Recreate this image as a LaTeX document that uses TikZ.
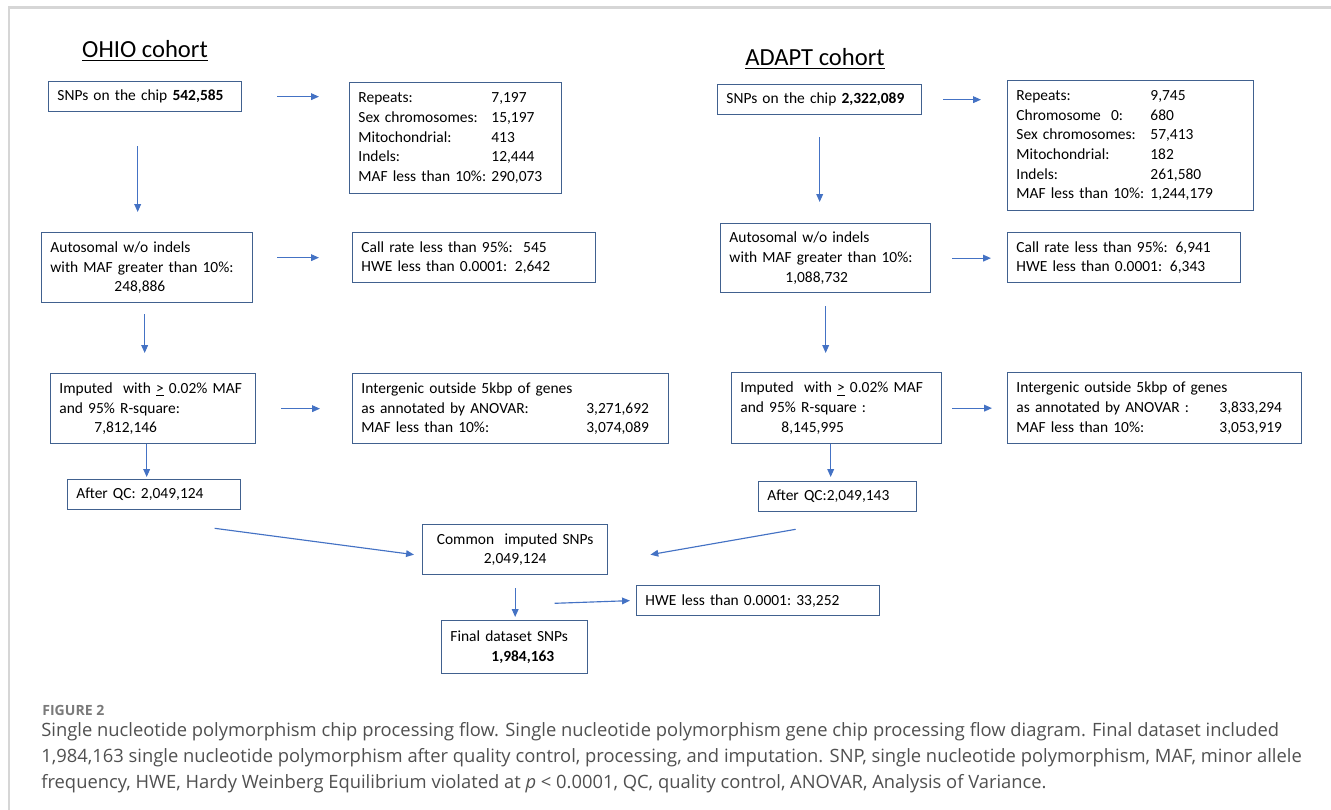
\documentclass[tikz,border=0pt]{standalone}
\usepackage{fontspec}
\setmainfont{Carlito}
\newfontfamily\capfont{Open Sans}
\usetikzlibrary{arrows.meta}

\definecolor{flowblue}{HTML}{4472C4}
\definecolor{boxedge}{HTML}{41618F}
\definecolor{framegray}{HTML}{D6D6D6}
\definecolor{captext}{HTML}{505050}
\definecolor{capfig}{HTML}{7A7A7A}

% label in a fixed-width slot, then the count
\newcommand{\statline}[3]{\makebox[#1][l]{#2}#3}

\tikzset{
  stepbox/.style={draw=boxedge, line width=0.75pt, anchor=north west, align=left,
    inner xsep=5pt, inner ysep=2pt, font=\fontsize{8.8}{11.2}\selectfont},
  flow/.style={flowblue, line width=0.65pt, -{Triangle[length=4.5pt,width=3.8pt]}},
  cohort/.style={anchor=base, font=\fontsize{14}{17}\selectfont},
  captionline/.style={anchor=base west, inner sep=0, text=captext,
    font=\capfont\fontsize{10.45}{14.7}\selectfont},
}

\begin{document}
\begin{tikzpicture}[x=0.02cm,y=-0.02cm]
\useasboundingbox (0,0) rectangle (1331,810);
\draw[framegray, line width=1.2pt] (9,810) -- (9,7.5) -- (1331,7.5);

% titles
\node[cohort] (ohio) at (145,58) {\underline{OHIO cohort}};
\node[cohort] (adapt) at (815,66) {\underline{ADAPT cohort}};

% OHIO cohort
\node[stepbox, text width=3.51cm, minimum height=0.6cm] (o1) at (48,81) {SNPs~on~the~chip~\textbf{542,585}};
\node[stepbox, text width=3.89cm, minimum height=2.22cm] (o2) at (349,82) {%
  \statline{2.66cm}{Repeats:}{7,197}\\
  \statline{2.66cm}{Sex chromosomes:}{15,197}\\
  \statline{2.66cm}{Mitochondrial:}{413}\\
  \statline{2.66cm}{Indels:}{12,444}\\
  \statline{2.66cm}{MAF less than 10\%:}{290,073}};
\node[stepbox, text width=3.87cm, minimum height=1.4cm] (o3) at (41,232) {%
  Autosomal w/o indels\\
  with~MAF~greater~than~10\%:\\
  \hspace*{1.28cm}248,886};
\node[stepbox, text width=4.51cm, minimum height=1.0cm] (o4) at (352,232) {%
  Call rate less than 95\%:\ \ 545\\
  HWE less than 0.0001: 2,642};
\node[stepbox, text width=3.75cm, minimum height=1.4cm] (o5) at (50,373) {%
  Imputed~~with~\underline{>}~0.02\%~MAF\\
  and 95\% R-square:\\
  \hspace*{0.7cm}7,812,146};
\node[stepbox, text width=5.97cm, minimum height=1.4cm] (o6) at (352,373) {%
  Intergenic outside 5kbp of genes\\
  \statline{4.5cm}{as annotated by ANOVAR:}{3,271,692}\\
  \statline{4.5cm}{MAF less than 10\%:}{3,074,089}};
\node[stepbox, text width=3.11cm, minimum height=0.6cm] (o7) at (67,479) {After~QC:~2,049,124};

% ADAPT cohort
\node[stepbox, text width=3.73cm, minimum height=0.6cm] (a1) at (717,84) {SNPs~on~the~chip~\textbf{2,322,089}};
\node[stepbox, text width=4.57cm, minimum height=2.6cm] (a2) at (1007,80) {%
  \statline{2.68cm}{Repeats:}{9,745}\\
  \statline{2.68cm}{Chromosome\ \ 0:}{680}\\
  \statline{2.68cm}{Sex chromosomes:}{57,413}\\
  \statline{2.68cm}{Mitochondrial:}{182}\\
  \statline{2.68cm}{Indels:}{261,580}\\
  \statline{2.68cm}{MAF less than 10\%:}{1,244,179}};
\node[stepbox, text width=3.85cm, minimum height=1.38cm] (a3) at (720,223) {%
  Autosomal w/o indels\\
  with~MAF~greater~than~10\%:\\
  \hspace*{1.12cm}1,088,732};
\node[stepbox, text width=4.31cm, minimum height=1.0cm] (a4) at (1007,232) {%
  Call rate less than 95\%: 6,941\\
  HWE less than 0.0001: 6,343};
\node[stepbox, text width=3.85cm, minimum height=1.42cm] (a5) at (731,372) {%
  Imputed~~with~\underline{>}~0.02\%~MAF\\
  and 95\% R-square :\\
  \hspace*{0.82cm}8,145,995};
\node[stepbox, text width=5.53cm, minimum height=1.42cm] (a6) at (1007,372) {%
  Intergenic outside 5kbp of genes\\
  \statline{4.06cm}{as annotated by ANOVAR :}{3,833,294}\\
  \statline{4.06cm}{MAF less than 10\%:}{3,053,919}};
\node[stepbox, text width=2.81cm, minimum height=0.6cm] (a7) at (758,481) {After~QC:2,049,143};

% merged part
\node[stepbox, align=center, text width=3.35cm, minimum height=1.0cm] (c) at (422,524) {%
  Common\ \ imputed SNPs\\ 2,049,124};
\node[stepbox, text width=4.51cm, minimum height=0.6cm] (h) at (636,585) {HWE~less~than~0.0001:~33,252};
\node[stepbox, text width=2.57cm, minimum height=1.06cm] (f) at (441,620) {%
  Final dataset SNPs\\ \hspace*{0.82cm}\textbf{1,984,163}};

% arrows OHIO
\draw[flow, shorten <=0.7cm, shorten >=0.6cm] (o1.east) -- (o1.east -| o2.west);
\draw[flow, shorten <=0.68cm, shorten >=0.4cm] ([xshift=-0.15cm]o1.south) -- ([xshift=-0.15cm]o1.south |- o3.north);
\draw[flow, shorten <=0.48cm, shorten >=0.66cm] ([yshift=0.2cm]o3.east) -- ([yshift=0.2cm]o3.east -| o4.west);
\draw[flow, shorten <=0.22cm, shorten >=0.4cm] ([xshift=-0.05cm]o3.south) -- ([xshift=-0.05cm]o3.south |- o5.north);
\draw[flow, shorten <=0.5cm, shorten >=0.64cm] (o5.east) -- (o5.east -| o6.west);
\draw[flow, shorten >=0.04cm] ([xshift=-0.13cm]o5.south) -- ([xshift=-0.13cm]o5.south |- o7.north);

% arrows ADAPT
\draw[flow, shorten <=0.42cm, shorten >=0.52cm] (a1.east) -- (a1.east -| a2.west);
\draw[flow, shorten <=0.44cm, shorten >=0.42cm] (a1.south) -- (a1.south |- a3.north);
\draw[flow, shorten <=0.42cm, shorten >=0.32cm] (a3.east) -- (a3.east -| a4.west);
\draw[flow, shorten <=0.26cm, shorten >=0.38cm] (a3.south) -- (a3.south |- a5.north);
\draw[flow, shorten <=0.2cm, shorten >=0.3cm] (a5.east) -- (a5.east -| a6.west);
\draw[flow, shorten >=0.08cm] ([xshift=-0.12cm]a5.south) -- ([xshift=-0.12cm]a5.south |- a7.north);

% arrows to the common set
\draw[flow] ([shift={(60.5,18)}]o7.south) -- ([shift={(-8,5)}]c.west);
\draw[flow] ([shift={(-42,17)}]a7.south) -- ([shift={(42,5)}]c.east);
\draw[flow, shorten <=0.26cm, shorten >=0.06cm] (c.south) -- (c.south |- f.north);
\draw[flow] ([shift={(39.5,28)}]c.south) -- ([xshift=-0.12cm]h.west);

% caption
\node[anchor=base west, inner sep=0, text=capfig, font=\capfont\bfseries\fontsize{8}{10}\selectfont] (figlabel) at (42,715) {FIGURE 2};
\node[captionline] (cap1) at (41,736) {Single nucleotide polymorphism chip processing flow. Single nucleotide polymorphism gene chip processing flow diagram. Final dataset included};
\node[captionline] (cap2) at (41,762) {1,984,163 single nucleotide polymorphism after quality control, processing, and imputation. SNP, single nucleotide polymorphism, MAF, minor allele};
\node[captionline] (cap3) at (41,788) {frequency, HWE, Hardy Weinberg Equilibrium violated at {\itshape p} < 0.0001, QC, quality control, ANOVAR, Analysis of Variance.};
\end{tikzpicture}
\end{document}
